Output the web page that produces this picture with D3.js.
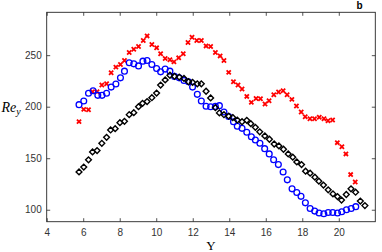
<!DOCTYPE html>
<html><head><meta charset="utf-8">
<script src="https://cdn.jsdelivr.net/npm/d3@7"></script>
<style>body{margin:0;background:#fff}svg{display:block}</style>
</head><body>
<svg id="c" width="382" height="252"></svg>
<script>
const xTicks = [4,6,8,10,12,14,16,18,20];
const yTicks = [100,150,200,250];

const redX = [5.77,6.03,6.29,6.51,6.76,7.02,7.28,7.53,7.79,8.04,8.26,8.52,8.77,9.03,9.29,9.50,9.76,10.02,10.24,10.49,10.75,10.97,11.23,11.48,11.74,11.96,12.22,12.47,12.73,12.98,13.24,13.50,13.71,13.97,14.23,14.48,14.70,14.96,15.21,15.47,15.71,15.96,16.18,16.44,16.70,16.95,17.17,17.43,17.68,17.94,18.16,18.42,18.67,18.93,19.19,19.41,19.66,19.92,20.17,20.39,20.65,20.90];
const redY = [185.5,197.4,197,214.5,214.5,221,222.2,232.9,238.4,241,244.9,252.6,255.8,258.4,264.2,268.7,260.4,257.1,251.3,246.8,245.5,243.5,247.4,251.3,262.3,267.4,264.2,264.2,259,258.4,252.6,249.3,244.9,233.3,224.2,221,217.1,210,204.2,208,207.7,202.6,205.8,211.6,214.2,215.5,211.6,207.1,200.6,194.8,190.3,188.3,188.3,189.7,188.3,186.4,187.1,165.1,161.2,154.2,134.1,127];

const blueX = [5.77,6.03,6.29,6.54,6.80,7.03,7.28,7.53,7.79,8.04,8.26,8.52,8.77,9.03,9.27,9.50,9.76,10.02,10.24,10.49,10.75,11.0,11.26,11.52,11.77,11.99,12.25,12.47,12.73,12.98,13.24,13.46,13.71,13.97,14.23,14.44,14.70,14.96,15.21,15.43,15.68,15.94,16.19,16.43,16.69,16.95,17.18,17.44,17.70,17.93,18.17,18.43,18.68,18.92,19.18,19.42,19.67,19.93,20.16,20.42,20.68,20.93];
const blueY = [202,205.5,213,215.5,211,211,213,219,222,228,234.5,242.7,241.6,239.6,244.2,244.8,241,237.1,233.8,236.5,234.5,229.4,228,225.5,224.2,219,212,205.5,200.5,200,200.3,201,194.8,190.5,185.4,181,179,175.2,170.8,167.7,164.5,159.3,154.2,148.5,143.8,136.7,129,120.3,116.7,113,106.7,101.2,98.7,96.8,96.1,97.4,97.4,96.8,98,100,101.2,103];

const blackX = [5.77,6.03,6.29,6.51,6.76,7.02,7.28,7.50,7.75,8.01,8.26,8.52,8.77,9.03,9.25,9.50,9.76,10.02,10.24,10.49,10.75,11.0,11.26,11.52,11.77,11.99,12.25,12.47,12.73,12.98,13.24,13.46,13.71,13.97,14.19,14.44,14.70,14.96,15.18,15.43,15.67,15.95,16.20,16.46,16.72,16.97,17.23,17.48,17.70,17.96,18.18,18.43,18.69,18.91,19.16,19.42,19.68,19.93,20.15,20.41,20.67,20.92,21.18,21.43];
const blackY = [136.7,141.4,148.4,156.1,157.4,164.5,170.3,177.4,178.7,184.5,185.8,192.3,194.2,200,203.3,205,208.7,213.2,221,226,230.5,229.5,228.7,227.4,224.2,223.6,222.2,222.2,215,208.5,199,194,192.2,190.8,189.5,187,185.4,186.8,183.5,180,175.6,171.6,168.4,163.8,161.9,158.7,154.2,151,146.4,143.8,137.4,135.5,131.6,127.7,123.9,119.3,115.4,112.8,109.4,114.8,120.3,117,108.4,104];

const svg = d3.select('#c');
const L = 46.7, R = 375.3, T = 12.3, B = 221.7;
const x = d3.scaleLinear().domain([4,22]).range([L,R]);
const y = d3.scaleLinear().domain([88.4,291.6]).range([B,T]);
const axisCol = '#262626';
const tk = 3.5;

function styleAxis(g){
  g.select('.domain').remove();
  g.selectAll('.tick line').attr('stroke',axisCol).attr('stroke-width',0.8);
  g.selectAll('.tick text').attr('fill','#333').style('font-family','"Liberation Sans", Arial, sans-serif').style('font-size','10px');
}
// bottom
svg.append('g').attr('transform',`translate(0,${B})`)
  .call(d3.axisBottom(x).tickValues(xTicks).tickSize(-tk).tickPadding(7).tickFormat(d3.format('d')))
  .call(styleAxis);
// top
svg.append('g').attr('transform',`translate(0,${T})`)
  .call(d3.axisTop(x).tickValues(xTicks).tickSize(-tk).tickFormat(''))
  .call(styleAxis);
// left
svg.append('g').attr('transform',`translate(${L},0)`)
  .call(d3.axisLeft(y).tickValues(yTicks).tickSize(-tk).tickPadding(5).tickFormat(d3.format('d')))
  .call(styleAxis);
// right
svg.append('g').attr('transform',`translate(${R},0)`)
  .call(d3.axisRight(y).tickValues(yTicks).tickSize(-tk).tickFormat(''))
  .call(styleAxis);
svg.append('rect').attr('x',L).attr('y',T).attr('width',R-L).attr('height',B-T)
  .attr('fill','none').attr('stroke',axisCol).attr('stroke-width',0.9);

// red x markers
const red = d3.range(redX.length).map(i=>[redX[i],redY[i]]);
const s = 2.1;
svg.append('g').selectAll('path').data(red).join('path')
  .attr('d',d=>{const cx=x(d[0]),cy=y(d[1]);return `M${cx-s},${cy-s}L${cx+s},${cy+s}M${cx-s},${cy+s}L${cx+s},${cy-s}`;})
  .attr('stroke','#ff0000').attr('stroke-width',1.8).attr('fill','none');

// blue circles
const blue = d3.range(blueX.length).map(i=>[blueX[i],blueY[i]]);
svg.append('g').selectAll('circle').data(blue).join('circle')
  .attr('cx',d=>x(d[0])).attr('cy',d=>y(d[1])).attr('r',2.9)
  .attr('fill','none').attr('stroke','#0000ff').attr('stroke-width',1.3);

// black diamonds
const black = d3.range(blackX.length).map(i=>[blackX[i],blackY[i]]);
const dd = 2.9;
svg.append('g').selectAll('path').data(black).join('path')
  .attr('d',d=>{const cx=x(d[0]),cy=y(d[1]);return `M${cx},${cy-dd}L${cx+dd},${cy}L${cx},${cy+dd}L${cx-dd},${cy}Z`;})
  .attr('fill','none').attr('stroke','#000').attr('stroke-width',1.4);

// labels
const yl = svg.append('text').attr('x',1.5).attr('y',111.5)
  .style('font-family','"Liberation Serif", "Times New Roman", serif').style('font-style','italic').style('font-size','14px').attr('fill','#000');
yl.append('tspan').text('Re');
yl.append('tspan').attr('dy',3).style('font-size','10px').text('y');

svg.append('text').attr('x',(L+R)/2).attr('y',249.5).attr('text-anchor','middle')
  .style('font-family','"Liberation Serif", "Times New Roman", serif').style('font-size','13px').attr('fill','#000').text('Y');

svg.append('text').attr('x',359.5).attr('y',9.2).attr('text-anchor','middle')
  .style('font-family','"Liberation Sans", Arial, sans-serif').style('font-weight','bold').style('font-size','10px').attr('fill','#000').text('b');
</script>
</body></html>
